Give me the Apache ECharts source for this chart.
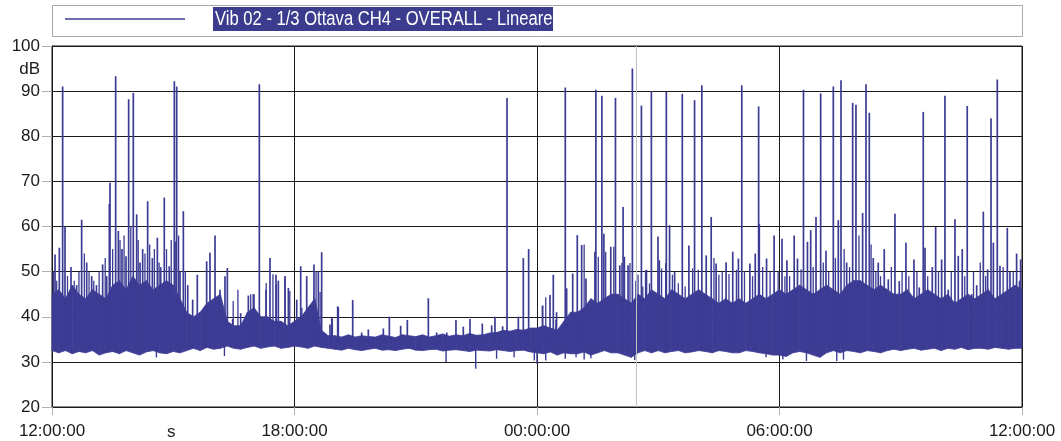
<!DOCTYPE html>
<html>
<head>
<meta charset="utf-8">
<script src="https://cdn.jsdelivr.net/npm/echarts@6/dist/echarts.min.js"></script>
<style>
html, body { margin: 0; padding: 0; background: #fff; }
#main { width: 1061px; height: 441px; }
</style>
</head>
<body>
<div id="main"></div>
<script>
// tick labels of the time axis (one every 6 hours, minutes from 12:00:00)
var timeLabels = ['12:00:00', '18:00:00', '00:00:00', '06:00:00', '12:00:00'];

// dense band of the signal, one value every 10 minutes (bottom and top of the band, dB)
var bandLow = [
    32.5,32,32.5,31.8,32.3,32,   32.5,31.5,32,32.3,31.8,32.5,
    32,31.5,32.2,32.5,32,31.8,   32.3,32,32.5,33,32.5,33.2,
    32.8,33,33.5,33,32.8,33.2,   33.5,33,33.3,33.5,33,33.2,
    33.5,33.3,33,33.5,33.2,33,   32.8,32.6,33,32.7,32.5,32.8,
    33,32.6,32.7,32.5,32.8,33,   32.6,32.5,32.7,32.8,32.4,32.6,
    32.7,32.5,32.3,32.6,32.5,32.4, 32.7,32.5,32.3,32.5,32.6,32.2,
    32,31.8,32.2,31.5,32,31.8,   31.8,32.2,31.5,32,32.5,32,
    32,31.5,31,32,32.5,32,       32.5,32,32.3,32.5,32,32.2,
    32.5,32.3,32,32.5,32.3,32,   32,32.5,32.3,32,31.8,31.5,
    31.5,31.2,32,32.3,32,31.5,   31,32,32.5,32,32.5,32.3,
    32,32.5,32.3,32,32.5,32.8,   32.5,32.8,33,32.6,32.8,33,
    32.5,33,32.8,33.2,32.7,33,   33,32.8,33.2,33,32.8,33,
    33
];
var bandHigh = [
    45,46,44,47,45,44,           46,45,44,47,48,46,
    49,47,48,46,47,48,           47,44,41,40,41,43,
    44,45,39,38,38,41,           42,40,40,39,39,38,
    39,40,42,44,37,35.8,         35.8,35.5,36,35.5,35.8,35.6,
    35.5,36,35.7,35.4,36,35.8,   35.6,36,35.5,35.8,36.2,35.7,
    36,35.8,36.3,35.9,36,36.4,   36.5,37,36.8,37.2,37,37.5,
    37.5,38,37.5,37,39,41,       41,42,44,43,44,45,
    45,44,43,45,44,46,           45,44,46,45,44,45,
    46,45,44,43,44,43,           44,43,44,45,44,45,
    46,45,46,47,46,45,           46,47,46,45,47,48,
    48,47,46,47,46,45,           45,46,44,45,46,45,
    44,45,43,44,45,44,           45,46,44,45,46,47,
    46
];

// isolated peaks [minutes from start, dB]
var spikes = [
    [4.5,53.8],[10.9,55.3],[15.8,91],[19.3,60],[28.2,51],[36.6,47],[44,61.5],[51.5,52],
    [58.9,49],[66,47],[75.2,51.6],[81.2,49],[85.1,65],[86.1,69.7],[94.5,93.3],[98.5,59],
    [103.9,55],[109.9,53.4],[113.8,88.2],[120.7,89.6],[125.7,62.7],[130.7,52],[134.6,55],
    [142,65.6],[149,53],[156.4,57.5],[161.4,51],[166.7,66.4],[174.1,51.2],[181.6,92.2],
    [184,56.7],[185.1,91],[190,50],[195,63.4],[201.5,47],[208.8,43.8],[215.7,49.3],
    [229.6,52.3],[234.5,54.2],[242,58],[249.4,46],[256.8,49],[260.3,50.8],[268.2,39.5],
    [280.1,40.8],[291.5,44.7],[298.9,45],[307.8,91.5],[317.7,46],[323.6,53],[332.5,49.3],
    [336,48],[345.9,49],[350.9,46.4],[363.3,43.8],[369.2,51.2],[378.1,49],[388.9,51.6],
    [395.4,50],[400.3,54.3],[412.7,38.3],[416,39.6],[424.1,42.3],[425,42.1],[446.4,43.7],
    [459.7,36.5],[469.6,37.2],[491.9,37.4],[500.8,40],[517.6,38],[527.5,39.3],[558.7,44.1],
    [571,36.5],[586,36.5],[599.7,39.3],[610.6,37.8],[620.5,39.5],[638.8,38.5],[652.7,38.1],
    [657.6,40],[669,37.9],[675.5,88.5],[692.3,40],[699.7,53],[707.6,55],[728.4,42.5],
    [739.3,44.8],[744.2,49.3],[749,41],[762,90.8],[764,46.3],[773,49.6],[779.8,58.1],
    [786.3,55.9],[792.7,48.5],[800,42.5],[806,54.4],[807.4,90.3],[816.3,89],[819.3,58.4],
    [829.5,55.5],[836.5,88.5],[842.9,51.4],[847.8,64.3],[855.2,51.4],[861.6,95],[867,48],
    [875,86.8],[881.4,50.3],[889.8,90],[899.6,57.8],[901.6,52.5],[912,89.8],[916.8,60.3],
    [924.3,50],[935.7,89.4],[945.5,55.8],[953.9,88],[964.7,91.3],[971.2,53.6],[978.6,62.1],
    [985.9,51.8],[1000.7,52.1],[1010.6,54.4],[1019,52.9],[1024,91.3],[1036,51.8],[1044,54],
    [1049,86.6],[1050,60.6],[1060.8,52.9],[1072,58],[1083.7,57.3],[1091,52.5],[1101.8,58],
    [1106.7,52.9],[1115.6,90.3],[1121.5,56.6],[1126.3,59.2],[1134.2,62.1],[1141.1,89.5],
    [1149,54.6],[1159.9,91],[1167.3,61.4],[1171.3,92.4],[1179.7,52],[1188.6,87.4],
    [1193.5,87],[1203.4,63],[1208.4,91.5],[1213.3,85.2],[1219.2,53],[1226.6,52],[1235.5,55],
    [1241.5,48.3],[1251.4,62.8],[1257.8,47.9],[1267.7,56.4],[1279.6,52.7],[1287.5,46.5],
    [1293.4,85.4],[1296,55.3],[1306.8,51],[1311.8,59.9],[1320.7,52.7],[1325.6,89],
    [1330.5,46],[1340.5,61.6],[1345.4,53.5],[1351.3,55],[1358.7,86.7],[1365.3,45],
    [1372.7,47],[1382.6,63.3],[1389,50.5],[1394,84],[1397.5,56.4],[1403.3,92.6],
    [1407.3,51.3],[1418.2,59.7],[1422.1,50],[1432,54],[1438,52.7]
];

// shorter lines standing on the band [minutes, dB]
var fineSpikes = [
    [2,50],[7,48],[23,49],[33,48],[40,50],[48,54],[55,50],[62,48],[70,50],[79,53],
    [90,55],[101,57],[107,58],[117,60],[128,57],[138,54],[145,56],[152,55],[159,52],
    [170,55],[177,57],[188,58],[198,50],[269,43.5],[276,46],[295,45],[300,45],[318,47.5],
    [328,49.4],[333,47.2],[346,49],[353,45.7],[371,42],[392,50.1],[398,45.5],[415,39.8],
    [728,42.4],[733,44.3],[748,39.3],[790,56],[801,42.6],[811,53.3],[822,54.4],[834,55.5],
    [846,51.9],[850,53.3],[858,51.9],[870,49.3],[877,46.7],[882.8,50.4],[887,47.4],
    [905,50.7],[911,51.9],[921,49.3],[929.8,47.4],[940,46.7],[951,50.7],[959.5,50.4],
    [982.7,53],[990,49.3],[995,50],[1005,49.5],[1016,50.4],[1028,50],[1040,49],[1055,51],
    [1066,50],[1078,50],[1088,49],[1095,49],[1112,50.5],[1130,51],[1145,52],[1153,50],
    [1163,53],[1176,55],[1184,51],[1198,58],[1216,56],[1223,50],[1230,49],[1246,51],
    [1262,50],[1272,49],[1284,50],[1300,49],[1316,50],[1335,50],[1355,49],[1368,50],
    [1378,52],[1386,49],[1412,51],[1427,50],[1436,48]
];

// short drops below the band [minutes, dB]
var dips = [
    [155,31],[256,31.3],[585,30],[629,28.5],[660,30.7],[686,31],[716,30.3],[720,29.6],
    [733,30.3],[762,30.7],[778,31],[790,30.5],[800,30.8],[865,30.4],[1060,31],[1085,30.5],
    [1120,30.2],[1165,30.2],[1175,30.5]
];

var cursorMinute = 868;
var lineColor = '#3c3c95';

// one quad per 10-minute step: [m0, low0, high0, m1, low1, high1]
var bandData = [];
for (var i = 0; i < bandLow.length - 1; i++) {
    bandData.push([i * 10, bandLow[i], bandHigh[i], (i + 1) * 10, bandLow[i + 1], bandHigh[i + 1]]);
}

function bandItem(params, api) {
    var a = api.coord([api.value(0), api.value(1)]);
    var b = api.coord([api.value(3), api.value(4)]);
    var c = api.coord([api.value(3), api.value(5)]);
    var d = api.coord([api.value(0), api.value(2)]);
    return {
        type: 'polygon',
        shape: { points: [a, b, c, d] },
        style: { fill: lineColor, stroke: lineColor, lineWidth: 0.8 }
    };
}

function makeStick(width) {
    return function (params, api) {
        var p0 = api.coord([api.value(0), 34]);
        var p1 = api.coord([api.value(0), api.value(1)]);
        return {
            type: 'line',
            shape: { x1: p0[0], y1: p0[1], x2: p1[0], y2: p1[1] },
            style: { stroke: lineColor, lineWidth: width }
        };
    };
}

var myChart = echarts.init(document.getElementById('main'));
var fontName = 'Liberation Sans, Arial, sans-serif';

var option = {
    animation: false,
    textStyle: { fontFamily: fontName },
    grid: {
        left: 52, right: 39, top: 46, bottom: 34,
        show: true, borderColor: '#1a1a1a', borderWidth: 1
    },
    xAxis: {
        type: 'value',
        min: 0, max: 1440, interval: 360,
        axisLine: { lineStyle: { color: '#1a1a1a', width: 1 } },
        axisTick: { show: true, length: 8, lineStyle: { color: '#b0b0b0' } },
        axisLabel: {
            margin: 16, fontSize: 17, color: '#1a1a1a', fontFamily: fontName,
            formatter: function (v) { return timeLabels[Math.round(v / 360)]; }
        },
        splitLine: { show: true, lineStyle: { color: '#1a1a1a', width: 1 } }
    },
    yAxis: {
        type: 'value',
        min: 20, max: 100, interval: 10,
        axisLine: { show: true, lineStyle: { color: '#1a1a1a', width: 1 } },
        axisTick: { show: true, length: 10, lineStyle: { color: '#b0b0b0' } },
        axisLabel: { margin: 12, fontSize: 17, color: '#1a1a1a', fontFamily: fontName },
        splitLine: { show: true, lineStyle: { color: '#1a1a1a', width: 1.2 } }
    },
    graphic: [
        { type: 'rect', left: 52, top: 5, shape: { width: 970, height: 31 },
          style: { fill: '#fff', stroke: '#a8a8a8', lineWidth: 1 } },
        { type: 'line', shape: { x1: 65, y1: 19, x2: 185, y2: 19 },
          style: { stroke: lineColor, lineWidth: 1.5 } },
        { type: 'rect', left: 213, top: 7, shape: { width: 340, height: 24 },
          style: { fill: '#3c3c8e' } },
        { type: 'text', x: 215, y: 19, scaleX: 0.83,
          style: { text: 'Vib 02 - 1/3 Ottava CH4 - OVERALL - Lineare', fill: '#fff',
                   font: '20px ' + fontName, verticalAlign: 'middle' } },
        { type: 'text', right: 1021, top: 61,
          style: { text: 'dB', fill: '#1a1a1a', font: '17px ' + fontName } },
        { type: 'text', left: 167, top: 424,
          style: { text: 's', fill: '#1a1a1a', font: '17px ' + fontName } }
    ],
    series: [
        {
            name: 'cursor', type: 'line', data: [], silent: true,
            markLine: {
                silent: true, symbol: 'none', label: { show: false },
                lineStyle: { color: '#c4c4c4', width: 1, type: 'solid' },
                data: [{ xAxis: cursorMinute }]
            }
        },
        {
            name: 'Vib 02 - 1/3 Ottava CH4 - OVERALL - Lineare', type: 'custom',
            data: bandData, renderItem: bandItem, silent: true,
            encode: { x: [0, 3], y: [1, 2, 4, 5] }
        },
        {
            name: 'fine', type: 'custom', data: fineSpikes, renderItem: makeStick(1.3),
            encode: { x: 0, y: 1 }, silent: true
        },
        {
            name: 'spikes', type: 'custom', data: spikes, renderItem: makeStick(1.7),
            encode: { x: 0, y: 1 }, silent: true
        },
        {
            name: 'dips', type: 'custom', data: dips, renderItem: makeStick(1.4),
            encode: { x: 0, y: 1 }, silent: true
        }
    ]
};

myChart.setOption(option);
window.onresize = function () { myChart.resize(); };
</script>
</body>
</html>
